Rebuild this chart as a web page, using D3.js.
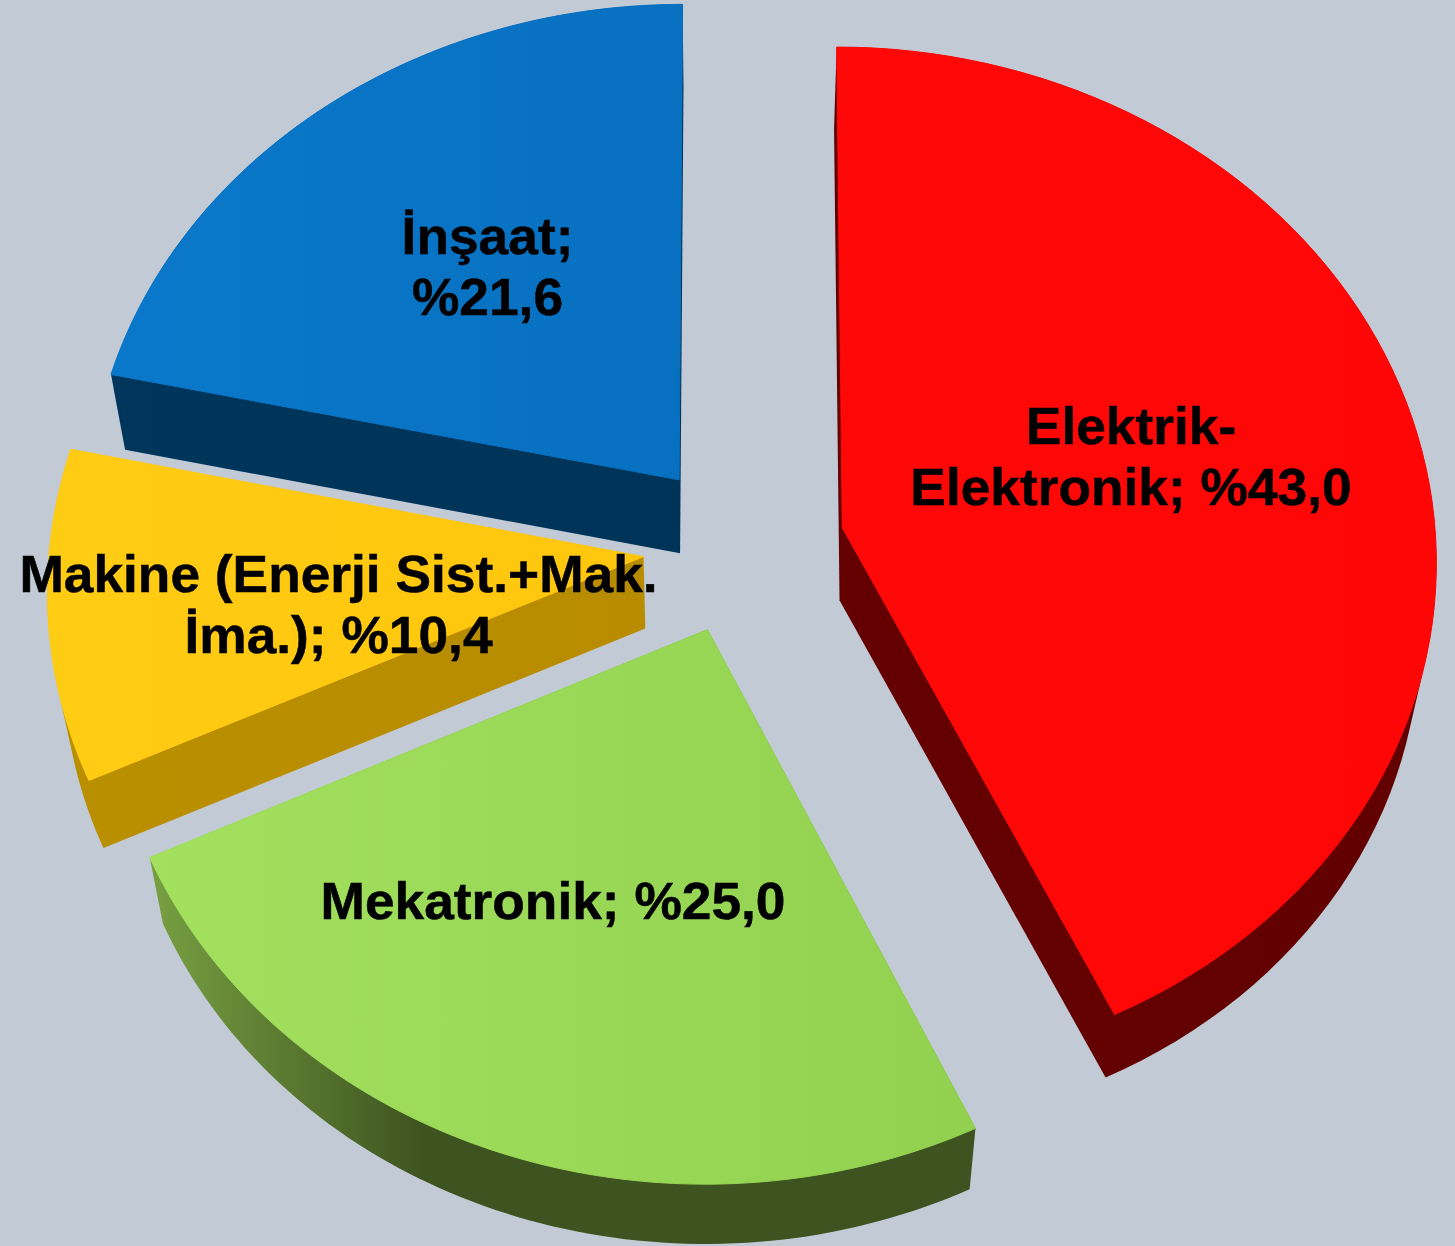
<!DOCTYPE html>
<html><head><meta charset="utf-8">
<script src="https://cdn.jsdelivr.net/npm/d3@7"></script>
<style>html,body{margin:0;padding:0;background:#c2cbd5;overflow:hidden}svg{display:block}</style>
</head><body><svg id="c" width="1455" height="1246"></svg>
<script>
const categories = ["Elektrik-Elektronik","Mekatronik","Makine (Enerji Sist.+Mak. İma.)","İnşaat"];
const shares = [43.0,25.0,10.4,21.6];
const labelLines = [["Elektrik-","Elektronik; %43,0"],["Mekatronik; %25,0"],["Makine (Enerji Sist.+Mak.","İma.); %10,4"],["İnşaat;","%21,6"]];
const topColors = [["#ff0808","#ff0606"],["#a2e05e","#92d050"],["#ffcc14","#ffc60c"],["#0a78ca","#0870c0"]];
const sideColors = [["#640000","#620000"],["#78a042","#3d5320","#3d5320","#3d5320"],["#b98f00","#b98c00"],["#00365c","#003358"]];
const explode = [103,101,99,101];
const labelX = [1131,553,338.5,487.5];
const labelY = [444,919,592,254];
const drawOrder = [3,0,2,1];

const W=1455,H=1246,cx=742,cy=547,k=0.861,D=10000,R=594,vx=722,vy=4300,sx=0.977,sy=0.9808;
const svg=d3.select("#c");
svg.append("rect").attr("width",W).attr("height",H).attr("fill","#c2cbd5");
const defs=svg.append("defs");
const pie=d3.pie().sort(null).value(d=>d).startAngle(0).endAngle(2*Math.PI);
const arcs=pie(shares);
const proj=(X,Y)=>{const p=1/(1-Y/D);return [cx+X*p,cy+k*Y*p];};
const drop=([x,y])=>[vx+(x-vx)*sx,vy+(y-vy)*sy];
const line=d3.line();
function face(i){
  const a=arcs[i],m=(a.startAngle+a.endAngle)/2;
  const ox=explode[i]*Math.sin(m),oy=-explode[i]*Math.cos(m);
  const t=d3.scaleLinear().domain([0,80]).range([a.startAngle,a.endAngle]);
  const rim=d3.range(0,81).map(j=>proj(ox+R*Math.sin(t(j)),oy-R*Math.cos(t(j))));
  return {apex:proj(ox,oy),rim};
}
drawOrder.forEach(i=>{
  const f=face(i);
  const ring=[f.apex,...f.rim];
  const [x0,x1]=d3.extent(ring,d=>d[0]);
  const mk=(id,cols)=>{const g=defs.append("linearGradient").attr("id",id).attr("gradientUnits","userSpaceOnUse")
    .attr("x1",x0).attr("x2",x1).attr("y1",0).attr("y2",0);
    cols.forEach((c,j)=>g.append("stop").attr("offset",j/(cols.length-1)).attr("stop-color",c));return `url(#${id})`;};
  const sf=mk("side"+i,sideColors[i]), tf=mk("top"+i,topColors[i]);
  const g=svg.append("g");
  const hull=d3.polygonHull([...ring,...ring.map(drop)]);
  g.append("path").attr("d",line(hull)+"Z").attr("fill",sf);
  g.append("path").attr("d",line(ring)+"Z").attr("fill",tf).attr("stroke",tf).attr("stroke-width",1);
});
const font="'Liberation Sans',Arial,sans-serif";
labelLines.forEach((ls,i)=>{
  const t=svg.append("text").attr("text-anchor","middle").attr("font-family",font).attr("font-weight",700)
    .attr("font-size",51).attr("fill","#000").attr("stroke","#000").attr("stroke-width",0.5)
    .attr("transform",`translate(${labelX[i]},${labelY[i]}) scale(1.045,1)`);
  ls.forEach((l,j)=>t.append("tspan").attr("x",0).attr("y",j*61.5).text(l));
});
</script></body></html>
